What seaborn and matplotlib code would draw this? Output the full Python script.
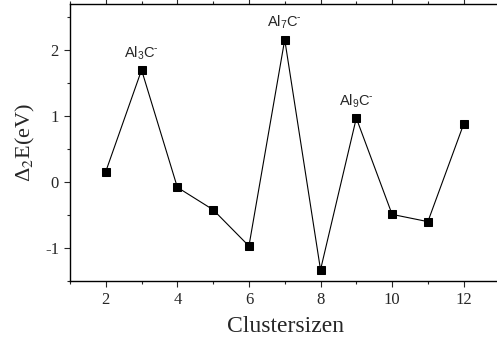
import matplotlib
matplotlib.use("Agg")
import matplotlib.pyplot as plt
import seaborn as sns
import pandas as pd
from matplotlib.ticker import MultipleLocator

cluster_size = [2, 3, 4, 5, 6, 7, 8, 9, 10, 11, 12]
delta2_e = [0.16, 1.70, -0.08, -0.42, -0.97, 2.16, -1.33, 0.97, -0.49, -0.60, 0.88]
labels = {3: r"Al$_3$C$^{\text{-}}$", 7: r"Al$_7$C$^{\text{-}}$", 9: r"Al$_9$C$^{\text{-}}$"}

sns.set_style("ticks")
plt.rcParams['font.family'] = ['Liberation Serif', 'DejaVu Serif']
plt.rcParams['axes.unicode_minus'] = False
plt.rcParams['mathtext.fontset'] = 'custom'
plt.rcParams['mathtext.rm'] = 'Liberation Sans'
plt.rcParams['mathtext.it'] = 'Liberation Sans'

df = pd.DataFrame({"n": cluster_size, "dE": delta2_e})

fig = plt.figure(figsize=(4.97, 3.42), dpi=100)
ax = fig.add_axes([70/497, 1-281/342, 1-70/497+0.01, (281-4)/342])
sns.lineplot(data=df, x="n", y="dE", ax=ax, color="black", linewidth=0.8,
             marker="s", markersize=6, markeredgecolor="black", markerfacecolor="black")

ax.set_xlim(1, 13.07)
ax.set_ylim(-1.5, 2.7)
ax.xaxis.set_major_locator(MultipleLocator(2))
ax.xaxis.set_minor_locator(MultipleLocator(1))
ax.yaxis.set_major_locator(MultipleLocator(1))
ax.yaxis.set_minor_locator(MultipleLocator(0.5))
ax.tick_params(which='major', direction='out', length=4, width=0.8, labelsize=12, pad=4)
ax.tick_params(which='minor', direction='out', length=2.5, width=0.8)
ax.tick_params(axis='x', which='both', top=True, labeltop=False)
for s in ax.spines.values():
    s.set_linewidth(1.0)
    s.set_color('black')
ax.spines['right'].set_visible(False)

ax.set_xlabel("Clustersizen", fontsize=17, labelpad=6)
ax.set_ylabel(r"Δ$_2$E(eV)", fontsize=16, labelpad=6)
ax.yaxis.label.set_math_fontfamily('stix')

for xv, yv in zip(cluster_size, delta2_e):
    if xv in labels:
        ax.annotate(labels[xv], (xv, yv), xytext=(0, 6), textcoords='offset points',
                    ha='center', va='bottom', fontsize=10.5, family='Liberation Sans')

fig.savefig("out.png", dpi=100)
